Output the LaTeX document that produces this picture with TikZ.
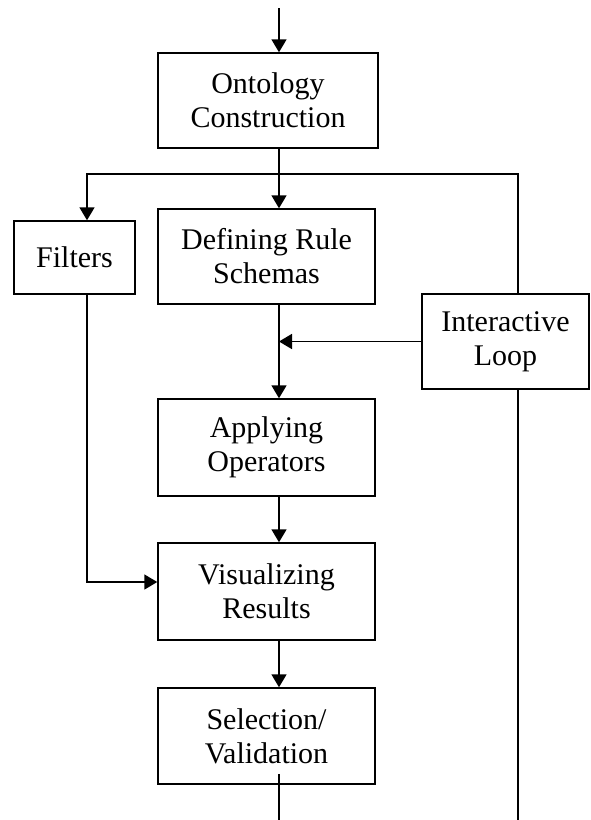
\documentclass[tikz,border=0pt]{standalone}
\usepackage{fontspec}
\setmainfont{Liberation Serif}
\usetikzlibrary{arrows.meta}
\usetikzlibrary{calc}

\begin{document}
\begin{tikzpicture}[x=1pt,y=-1pt]
	\useasboundingbox (0,0) rectangle (590,820);
	\coordinate (in) at (279,8);
	\coordinate (split) at (279,174);
	\coordinate (left) at (87,174);
	\coordinate (right) at (518,174);
	\coordinate (join) at (87,582);
	\coordinate (out) at (279,820);
	\coordinate (end) at (518,820);

	\begin{scope}[every node/.style={draw, line width=1.5pt, align=center, inner sep=0pt,
	              font=\fontsize{30}{34}\selectfont}]
		\node[minimum width=220pt, minimum height=95pt] (1) at (268,100.5) {Ontology\\Construction};
		\node[minimum width=121pt, minimum height=73pt] (2) at (74.5,257.5) {Filters};
		\node[minimum width=217pt, minimum height=95pt] (3) at (266.5,256.5) {Defining Rule\\Schemas};
		\node[minimum width=167pt, minimum height=95pt] (4) at (505.5,341.5) {Interactive\\Loop};
		\node[minimum width=217pt, minimum height=97pt] (5) at (266.5,447.5) {Applying\\Operators};
		\node[minimum width=217pt, minimum height=97pt] (6) at (266.5,591.5) {Visualizing\\Results};
		\node[minimum width=217pt, minimum height=96pt] (7) at (266.5,736) {Selection/\\Validation};
	\end{scope}

	\begin{scope}[>={Triangle[length=13pt,width=15pt]}, line width=1.8pt]
		\draw[->] (in) -- (1.north -| in);
		\draw[->] (1.south -| split) -- (3.north -| split);
		\draw[->] (split) -- (left) -- (2.north -| left);
		\draw (split) -- (right) -- (4.north -| right);
		\draw (4.south -| right) -- (end);
		\draw[->] (4.west) -- (4.west -| split);
		\draw[->] (3.south -| split) -- (5.north -| split);
		\draw[->] (5.south -| split) -- (6.north -| split);
		\draw[->] (2.south -| left) -- (join) -- (6.west |- join);
		\draw[->] (6.south -| split) -- (7.north -| split);
		\draw ($(7.south -| out)+(0,-11)$) -- (out);
	\end{scope}
\end{tikzpicture}
\end{document}
